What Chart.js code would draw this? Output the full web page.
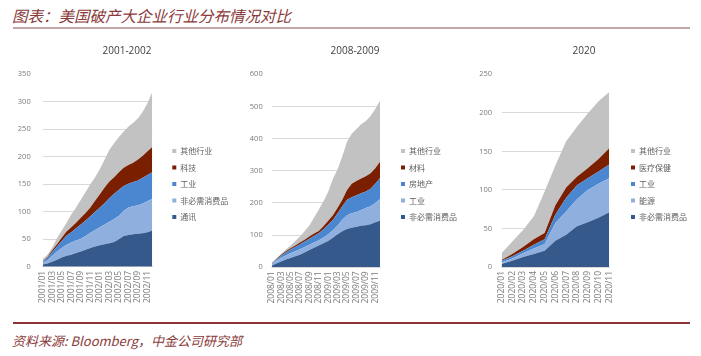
<!DOCTYPE html>
<html><head><meta charset="utf-8">
<script src="https://cdn.jsdelivr.net/npm/chart.js@4"></script>
<style>
html,body{margin:0;padding:0;background:#fff;}
body{width:701px;height:356px;position:relative;overflow:hidden;font-family:"Noto Sans CJK SC",sans-serif;}
#title{position:absolute;left:12px;top:4px;font-size:15.5px;line-height:22px;font-style:italic;color:#8a3a3a;white-space:nowrap;}
#tline{position:absolute;left:13px;top:27px;width:677px;height:2px;background:#c0a6a6;}
#fline{position:absolute;left:13px;top:322px;width:677px;height:1.5px;background:#8b3535;}
#foot{position:absolute;left:12px;top:331px;font-size:13px;line-height:19px;font-style:italic;color:#8a3a3a;white-space:nowrap;}
canvas{position:absolute;top:36px;}
</style></head>
<body>
<div id="title">图表：美国破产大企业行业分布情况对比</div>
<div id="tline"></div>
<canvas id="c1" width="240" height="276" style="left:0px"></canvas>
<canvas id="c2" width="228" height="276" style="left:240px"></canvas>
<canvas id="c3" width="228" height="276" style="left:470px"></canvas>
<div id="fline"></div>
<div id="foot">资料来源: Bloomberg，中金公司研究部</div>
<script>
// ---------- Panel 1: 2001-2002 ----------
const p1Labels = ['2001/01','2001/02','2001/03','2001/04','2001/05','2001/06','2001/07','2001/08','2001/09','2001/10','2001/11','2001/12',
                  '2002/01','2002/02','2002/03','2002/04','2002/05','2002/06','2002/07','2002/08','2002/09','2002/10','2002/11','2002/12'];
const p1Names = ['通讯','非必需消费品','工业','科技','其他行业'];
const p1Telecom   = [4,6,9,13,17,20,22,25,28,31,34,37,39,41,43,45,50,56,58,59,60,61,63,66];
const p1ConsDisc  = [3,6,11,15,17,20,22,23,23,25,28,30,33,36,39,42,43,46,50,51,52,54,56,58];
const p1Industry  = [2,4,7,9,13,17,19,22,26,28,30,33,36,39,43,46,47,45,43,44,45,47,48,48];
const p1Tech      = [1,2,3,4,6,7,9,10,12,14,16,20,24,28,30,30,32,33,34,35,38,40,43,46];
const p1Other     = [4,4,5,11,13,16,23,28,33,38,42,43,46,51,58,62,64,66,70,73,75,80,88,100];
const p1YTicks = [0,50,100,150,200,250,300,350];

// ---------- Panel 2: 2008-2009 ----------
const p2Labels = ['2008/01','2008/02','2008/03','2008/04','2008/05','2008/06','2008/07','2008/08','2008/09','2008/10','2008/11','2008/12',
                  '2009/01','2009/02','2009/03','2009/04','2009/05','2009/06','2009/07','2009/08','2009/09','2009/10','2009/11','2009/12'];
const p2Names = ['非必需消费品','工业','房地产','材料','其他行业'];
const p2ConsDisc  = [5,12,18,24,29,34,39,46,54,61,68,75,82,92,103,112,119,123,126,129,131,134,140,145];
const p2Industry  = [4,8,12,13,15,16,17,17,16,16,16,18,21,23,27,36,43,45,46,49,53,56,60,67];
const p2RealEst   = [2,4,6,9,11,13,16,17,19,21,22,25,29,32,38,42,48,50,52,52,52,54,60,66];
const p2Materials = [1,2,3,4,4,5,5,6,7,7,7,10,13,15,17,20,30,42,44,46,47,48,48,50];
const p2Other     = [2,2,2,5,9,14,19,26,34,50,67,77,90,113,120,135,150,155,162,169,172,178,184,190];
const p2YTicks = [0,100,200,300,400,500,600];

// ---------- Panel 3: 2020 ----------
const p3Labels = ['2020/01','2020/02','2020/03','2020/04','2020/05','2020/06','2020/07','2020/08','2020/09','2020/10','2020/11'];
const p3Names = ['非必需消费品','能源','工业','医疗保健','其他行业'];
const p3ConsDisc  = [4,8,13,17,21,34,42,53,58,64,71];
const p3Energy    = [2,3,5,7,9,23,30,35,42,44,44];
const p3Industry  = [2,3,3,5,6,11,18,18,15,16,18];
const p3Health    = [1,3,5,7,8,12,13,11,13,16,21];
const p3Other     = [9,16,22,30,54,52,60,65,71,75,73];
const p3YTicks = [0,50,100,150,200,250];

const COLORS = ['#35598b','#8fb0df','#4b86d0','#7a1f00','#c2c2c2'];
const CJK = '"Noto Sans CJK SC", sans-serif';
Chart.defaults.font.family = '"Open Sans", sans-serif';

function makePanel(id, title, labels, names, series, yTicks, every, g) {
  const yMax = yTicks[yTicks.length - 1];
  const step = yTicks[1] - yTicks[0];
  const datasets = series.map((vals, i) => ({
    label: names[i],
    data: vals,
    backgroundColor: COLORS[i],
    borderColor: COLORS[i],
    borderWidth: 0,
    pointRadius: 0,
    pointHoverRadius: 0,
    tension: 0,
    fill: i === 0 ? 'origin' : '-1'
  }));
  return new Chart(document.getElementById(id), {
    type: 'line',
    data: { labels, datasets },
    options: {
      responsive: false,
      animation: false,
      layout: { padding: { left: g.padL, right: g.padR, top: 0, bottom: 0 } },
      plugins: {
        title: {
          display: true, text: title, color: '#404040',
          font: { size: 10, weight: 'normal' },
          padding: { top: 9, bottom: 17.3 }
        },
        legend: {
          position: 'right', align: 'start', fullSize: false, reverse: true, maxWidth: 74.5,
          labels: { boxWidth: 4, boxHeight: 4, padding: 8.5, color: '#606060', font: { family: CJK, size: 8 } },
          title: { display: true, text: ' ', font: { size: 8 }, padding: { top: 54.6, bottom: 0 } }
        },
        tooltip: { enabled: false }
      },
      scales: {
        x: {
          type: 'category', offset: false,
          grid: { display: false, drawTicks: false },
          border: { display: true, color: '#d9d9d9' },
          ticks: {
            autoSkip: false, minRotation: 90, maxRotation: 90, padding: 4,
            color: '#7a7a7a', font: { size: 8.5 },
            callback: function (v, i) { return i % every === 0 ? this.getLabelForValue(v) : ''; }
          },
          afterFit: s => { s.height = g.xH; }
        },
        y: {
          stacked: true, min: 0, max: yMax,
          ticks: { stepSize: step, padding: g.tickPad, color: '#7a7a7a', font: { size: 7.5 } },
          grid: {
            drawTicks: false, lineWidth: 1,
            color: c => (c.tick && (c.tick.value === yMax || c.tick.value === 0)) ? 'rgba(0,0,0,0)' : '#d9d9d9'
          },
          border: { display: false },
          afterFit: s => { s.width = g.yW; }
        },
        gap: {
          type: 'linear', position: 'right', display: true,
          grid: { display: false, drawTicks: false },
          border: { display: false },
          ticks: { display: false },
          afterFit: s => { s.width = g.E; }
        }
      }
    }
  });
}

makePanel('c1', '2001-2002', p1Labels, p1Names,
  [p1Telecom, p1ConsDisc, p1Industry, p1Tech, p1Other], p1YTicks, 2,
  { padL: 15.7, padR: 1.7, yW: 27, tickPad: 12, E: 11.5, xH: 45.2 });
makePanel('c2', '2008-2009', p2Labels, p2Names,
  [p2ConsDisc, p2Industry, p2RealEst, p2Materials, p2Other], p2YTicks, 2,
  { padL: 3, padR: 1, yW: 28.7, tickPad: 9, E: 12.5, xH: 44.7 });
makePanel('c3', '2020', p3Labels, p3Names,
  [p3ConsDisc, p3Energy, p3Industry, p3Health, p3Other], p3YTicks, 1,
  { padL: 1, padR: 1, yW: 30.5, tickPad: 9.5, E: 13.2, xH: 45 });
</script>
</body></html>
